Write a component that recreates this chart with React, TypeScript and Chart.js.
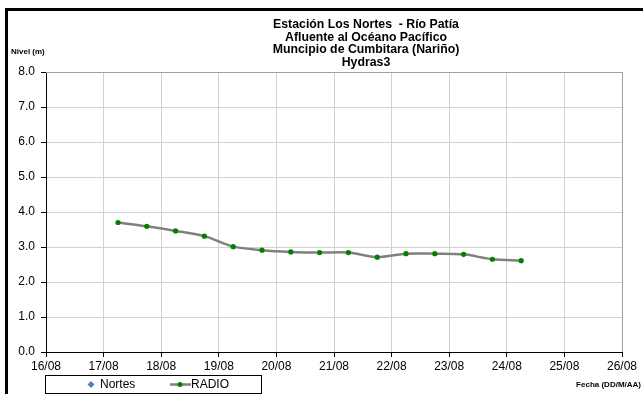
import React, { useEffect, useRef } from "react";
import { Chart, registerables } from "chart.js";

Chart.register(...registerables);

const titleLines = [
  "Estación Los Nortes  - Río Patía",
  "Afluente al Océano Pacífico",
  "Muncipio de Cumbitara (Nariño)",
  "Hydras3",
];
const yAxisTitle = "Nivel (m)";
const xAxisTitle = "Fecha (DD/M/AA)";
const seriesNames = ["Nortes", "RADIO"];
// x in day-of-August (fractional), y in metres
const radioDays = [17.25, 17.75, 18.25, 18.75, 19.25, 19.75, 20.25, 20.75, 21.25, 21.75, 22.25, 22.75, 23.25, 23.75, 24.25];
const radioLevels = [3.7, 3.59, 3.46, 3.31, 3.01, 2.91, 2.86, 2.84, 2.84, 2.71, 2.81, 2.81, 2.79, 2.65, 2.61];
const nortesDays: number[] = [];
const nortesLevels: number[] = [];
const xMin = 16;
const xMax = 26;
const yMin = 0;
const yMax = 8;

const FONT = "'Liberation Sans', Arial, sans-serif";

const decorPlugin = {
  id: "decor",
  beforeDraw(chart: any) {
    const ctx = chart.ctx;
    ctx.save();
    ctx.fillStyle = "#ffffff";
    ctx.fillRect(0, 0, chart.width, chart.height);
    ctx.restore();
  },
  afterDraw(chart: any) {
    const ctx = chart.ctx;
    const area = chart.chartArea;
    ctx.save();
    // outer frame
    ctx.fillStyle = "#000";
    ctx.fillRect(5, 8, chart.width - 5, 3);
    ctx.fillRect(5, 8, 3, chart.height - 8);
    // title
    ctx.fillStyle = "#000";
    ctx.font = `bold 12.3px ${FONT}`;
    ctx.textAlign = "center";
    ctx.textBaseline = "middle";
    titleLines.forEach((t, i) => ctx.fillText(t, 366, 25 + i * 12.5));
    // axis titles
    ctx.font = `bold 8px ${FONT}`;
    ctx.textAlign = "left";
    ctx.fillText(yAxisTitle, 11, 52);
    ctx.textAlign = "right";
    ctx.fillText(xAxisTitle, 641, 385);
    // top/right plot border
    ctx.strokeStyle = "#a0a0a0";
    ctx.lineWidth = 1;
    ctx.beginPath();
    ctx.moveTo(area.left, area.top + 0.5);
    ctx.lineTo(area.right + 0.5, area.top + 0.5);
    ctx.lineTo(area.right + 0.5, area.bottom);
    ctx.stroke();
    // legend
    const lx = 45, ly = 375, lw = 216, lh = 18;
    ctx.fillStyle = "#fff";
    ctx.fillRect(lx, ly, lw, lh);
    ctx.strokeStyle = "#000";
    ctx.lineWidth = 1;
    ctx.strokeRect(lx + 0.5, ly + 0.5, lw, lh);
    const cy = ly + lh / 2 + 0.5;
    // Nortes diamond
    ctx.fillStyle = "#4f81bd";
    ctx.beginPath();
    ctx.moveTo(91, cy - 3.5);
    ctx.lineTo(94.5, cy);
    ctx.lineTo(91, cy + 3.5);
    ctx.lineTo(87.5, cy);
    ctx.closePath();
    ctx.fill();
    ctx.fillStyle = "#000";
    ctx.font = `12px ${FONT}`;
    ctx.textAlign = "left";
    ctx.textBaseline = "middle";
    ctx.fillText(seriesNames[0], 100, cy);
    // RADIO line + dot
    ctx.strokeStyle = "#808080";
    ctx.lineWidth = 2.5;
    ctx.beginPath();
    ctx.moveTo(170, cy);
    ctx.lineTo(191, cy);
    ctx.stroke();
    ctx.fillStyle = "#008000";
    ctx.beginPath();
    ctx.arc(180, cy, 2.5, 0, Math.PI * 2);
    ctx.fill();
    ctx.fillStyle = "#000";
    ctx.fillText(seriesNames[1], 191, cy);
    ctx.restore();
  },
};

export default function App() {
  const ref = useRef<HTMLCanvasElement | null>(null);
  useEffect(() => {
    if (!ref.current) return;
    const chart = new Chart(ref.current, {
      type: "line",
      data: {
        datasets: [
          {
            label: seriesNames[0],
            data: nortesDays.map((d, i) => ({ x: d, y: nortesLevels[i] })),
            borderColor: "#4f81bd",
            backgroundColor: "#4f81bd",
            pointStyle: "rectRot",
            showLine: false,
          },
          {
            label: seriesNames[1],
            data: radioDays.map((d, i) => ({ x: d, y: radioLevels[i] })),
            borderColor: "#808080",
            borderWidth: 2.5,
            backgroundColor: "#008000",
            pointBackgroundColor: "#008000",
            pointBorderColor: "#008000",
            pointRadius: 2.6,
            pointBorderWidth: 0,
            tension: 0.3,
          },
        ],
      },
      options: {
        responsive: false,
        animation: false,
        layout: { padding: { left: 0, right: 21, top: 72, bottom: 0 } },
        plugins: {
          legend: { display: false },
          title: { display: false },
          tooltip: { enabled: false },
        },
        scales: {
          x: {
            type: "linear",
            min: xMin,
            max: xMax,
            afterFit: (s: any) => {
              s.height = 42;
            },
            ticks: {
              stepSize: 1,
              color: "#000",
              font: { family: FONT, size: 12 },
              padding: 2,
              maxRotation: 0,
              callback: (v: any) => String(v).padStart(2, "0") + "/08",
            },
            grid: { color: "#d0d0d0", tickColor: "#000", tickLength: 5, lineWidth: 1 },
            border: { color: "#000", width: 1 },
          },
          y: {
            min: yMin,
            max: yMax,
            afterFit: (s: any) => {
              s.width = 46;
            },
            ticks: {
              stepSize: 1,
              color: "#000",
              font: { family: FONT, size: 12 },
              padding: 6,
              callback: (v: any) => Number(v).toFixed(1),
            },
            grid: { color: "#d0d0d0", tickColor: "#000", tickLength: 5, lineWidth: 1 },
            border: { color: "#000", width: 1 },
          },
        },
      },
      plugins: [decorPlugin],
    });
    return () => chart.destroy();
  }, []);
  return (
    <div style={{ position: "absolute", left: 0, top: 0, width: 643, height: 394 }}>
      <canvas ref={ref} width={643} height={394} style={{ width: 643, height: 394, display: "block" }} />
    </div>
  );
}
